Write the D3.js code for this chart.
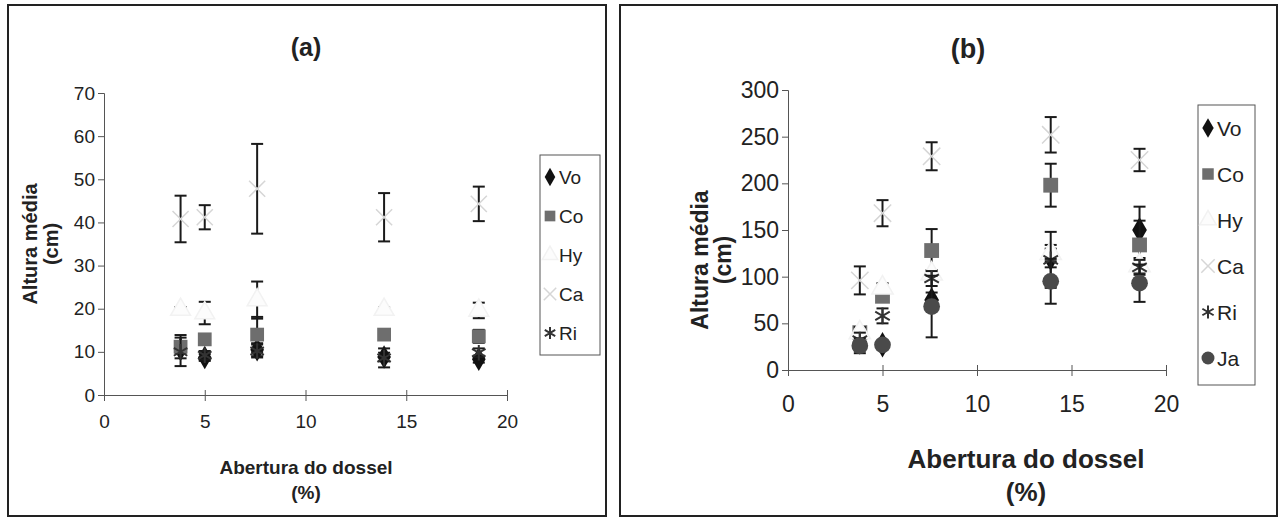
<!DOCTYPE html>
<html>
<head>
<meta charset="utf-8">
<script src="https://cdn.jsdelivr.net/npm/d3@7"></script>
<style>
  body { margin: 0; background: #fff; }
  svg { font-family: "Liberation Sans", Arial, sans-serif; }
</style>
</head>
<body>
<div id="chart"></div>
<script>
// canopy openness (%) of the five sites
const abertura = [3.8, 5.0, 7.6, 13.9, 18.6];

// panel (a) - mean height (cm) and error
const aVo = [10.6, 8.7, 10.5, 8.8, 8.3];
const aVoErr = [1.0, 0.8, 1.5, 1.0, 0.8];
const aCo = [11.2, 12.9, 14.0, 14.0, 13.6];
const aCoErr = [2.7, 1.2, 4.1, 1.2, 1.5];
const aHy = [19.8, 19.0, 22.0, 19.8, 19.6];
const aHyErr = [0.6, 2.6, 4.3, 0.5, 1.8];
const aCa = [40.8, 41.2, 47.8, 41.2, 44.3];
const aCaErr = [5.4, 2.8, 10.4, 5.6, 4.0];
const aRi = [10.0, 9.2, 10.2, 8.6, 9.8];
const aRiErr = [3.3, 1.0, 1.5, 2.2, 1.0];

// panel (b)
const bVo = [30, 27, 75, 120, 150];
const bVoErr = [5, 4, 8, 10, 10];
const bCo = [40, 79, 128, 198, 134];
const bCoErr = [4, 4, 23, 23, 41];
const bHy = [40, 88, 103, 125, 112];
const bHyErr = [6, 5, 4, 9, 8];
const bCa = [96, 168, 229, 252, 225];
const bCaErr = [15, 14, 15, 19, 12];
const bRi = [32, 58, 98, 118, 110];
const bRiErr = [8, 8, 8, 30, 8];
const bJa = [26, 27, 68, 95, 93];
const bJaErr = [8, 4, 33, 24, 20];

const xTicks = [0, 5, 10, 15, 20];
const aTicks = [0, 10, 20, 30, 40, 50, 60, 70];
const bTicks = [0, 50, 100, 150, 200, 250, 300];

// marker look for each species
const styles = {
  Vo: { type: d3.symbolDiamond, fill: '#111', stroke: 'none', k: 0.85, w: 2 },
  Co: { type: d3.symbolSquare, fill: '#6e6e6e', stroke: 'none', k: 1, w: 2 },
  Hy: { type: d3.symbolTriangle, fill: '#fcfcfc', stroke: '#f2f2f2', k: 0.9, w: 1.5 },
  Ca: { type: d3.symbolTimes, fill: 'none', stroke: '#d6d6d6', k: 0.9, w: 1.5 },
  Ri: { type: d3.symbolAsterisk, fill: 'none', stroke: '#333', k: 0.9, w: 2 },
  Ja: { type: d3.symbolCircle, fill: '#4a4a4a', stroke: 'none', k: 1, w: 2 }
};

const width = 1281;
const height = 518;

const svg = d3.select('#chart')
  .append('svg')
  .attr('width', width)
  .attr('height', height);

function drawPanel(p) {
  const g = svg.append('g');

  g.append('rect')
    .attr('x', p.frame[0]).attr('y', p.frame[1])
    .attr('width', p.frame[2]).attr('height', p.frame[3])
    .attr('fill', 'none')
    .attr('stroke', '#222')
    .attr('stroke-width', 2);

  const x = d3.scaleLinear().domain([0, 20]).range([p.left, p.right]);
  const y = d3.scaleLinear().domain([0, p.yMax]).range([p.bottom, p.top]);

  const axisY = d3.axisLeft(y).tickValues(p.yTicks).tickSize(6).tickPadding(3);
  const gy = g.append('g')
    .attr('transform', `translate(${p.left},0)`)
    .call(axisY);
  gy.select('.domain').attr('stroke', '#555');
  gy.selectAll('.tick line').attr('stroke', '#555');
  gy.selectAll('text').attr('font-size', p.tickFont).attr('fill', '#222')
    .attr('font-family', '"Liberation Sans", Arial, sans-serif');

  const axisX = d3.axisBottom(x).tickValues(xTicks).tickSize(6).tickPadding(p.xPad);
  const gx = g.append('g')
    .attr('transform', `translate(0,${p.bottom})`)
    .call(axisX);
  gx.select('.domain').attr('stroke', '#555');
  gx.selectAll('.tick line').attr('stroke', '#555').attr('y1', -5);
  gx.selectAll('text').attr('font-size', p.tickFont).attr('fill', '#222')
    .attr('font-family', '"Liberation Sans", Arial, sans-serif');

  // series: error bars then markers
  p.series.forEach(s => {
    const st = styles[s.name];
    const eb = g.append('g').attr('stroke', '#1a1a1a').attr('stroke-width', 2);
    s.values.forEach((v, i) => {
      const cx = x(abertura[i]);
      const y1 = y(v + s.err[i]);
      const y2 = y(v - s.err[i]);
      eb.append('line').attr('x1', cx).attr('x2', cx).attr('y1', y1).attr('y2', y2);
      eb.append('line').attr('x1', cx - p.cap).attr('x2', cx + p.cap).attr('y1', y1).attr('y2', y1);
      eb.append('line').attr('x1', cx - p.cap).attr('x2', cx + p.cap).attr('y1', y2).attr('y2', y2);
    });
    g.append('g').selectAll('path')
      .data(s.values)
      .enter()
      .append('path')
      .attr('transform', (d, i) => `translate(${x(abertura[i])},${y(d)})`)
      .attr('d', d3.symbol().type(st.type).size(p.symSize * st.k))
      .attr('fill', st.fill)
      .attr('stroke', st.stroke)
      .attr('stroke-width', st.w);
  });

  // legend
  const lg = g.append('g');
  lg.append('rect')
    .attr('x', p.legend[0]).attr('y', p.legend[1])
    .attr('width', p.legend[2]).attr('height', p.legend[3])
    .attr('fill', '#fff').attr('stroke', '#555');
  p.series.forEach((s, i) => {
    const st = styles[s.name];
    const ly = p.legend[1] + p.legendFirst + i * p.legendStep;
    lg.append('path')
      .attr('transform', `translate(${p.legend[0] + 10},${ly})`)
      .attr('d', d3.symbol().type(st.type).size(p.symSize * st.k * 0.6))
      .attr('fill', st.fill)
      .attr('stroke', st.stroke)
      .attr('stroke-width', st.w);
    lg.append('text')
      .attr('x', p.legend[0] + 19)
      .attr('y', ly)
      .attr('dy', '0.36em')
      .attr('font-size', p.legendFont)
      .attr('fill', '#222')
      .text(s.name);
  });

  // titles
  g.append('text')
    .attr('x', p.titleX).attr('y', p.titleY)
    .attr('text-anchor', 'middle')
    .attr('font-size', p.titleFont).attr('font-weight', 'bold')
    .attr('fill', '#222')
    .text(p.title);

  g.append('text')
    .attr('x', p.xLabelX).attr('y', p.xLabelY)
    .attr('text-anchor', 'middle')
    .attr('font-size', p.labelFont).attr('font-weight', 'bold')
    .attr('fill', '#222')
    .text('Abertura do dossel');
  g.append('text')
    .attr('x', p.xLabelX).attr('y', p.xLabelY + p.xLabelGap)
    .attr('text-anchor', 'middle')
    .attr('font-size', p.labelFont).attr('font-weight', 'bold')
    .attr('fill', '#222')
    .text('(%)');

  g.append('text')
    .attr('transform', `translate(${p.yLabelX},${p.yLabelY}) rotate(-90)`)
    .attr('text-anchor', 'middle')
    .attr('font-size', p.yLabelFont).attr('font-weight', 'bold')
    .attr('fill', '#222')
    .text('Altura média');
  g.append('text')
    .attr('transform', `translate(${p.yLabelX + p.yLabelGap},${p.yLabelY}) rotate(-90)`)
    .attr('text-anchor', 'middle')
    .attr('font-size', p.yLabelFont).attr('font-weight', 'bold')
    .attr('fill', '#222')
    .text('(cm)');
}

drawPanel({
  frame: [8, 5, 598, 511],
  left: 104, right: 507, top: 93, bottom: 395,
  yMax: 70, yTicks: aTicks,
  tickFont: 19, xPad: 14,
  cap: 6, symSize: 190,
  series: [
    { name: 'Vo', values: aVo, err: aVoErr },
    { name: 'Co', values: aCo, err: aCoErr },
    { name: 'Hy', values: aHy, err: aHyErr },
    { name: 'Ca', values: aCa, err: aCaErr },
    { name: 'Ri', values: aRi, err: aRiErr }
  ],
  legend: [540, 155, 60, 200], legendFirst: 22, legendStep: 39, legendFont: 19,
  title: '(a)', titleX: 306, titleY: 56, titleFont: 25,
  xLabelX: 306, xLabelY: 474, xLabelGap: 25, labelFont: 19,
  yLabelX: 37, yLabelY: 244, yLabelGap: 21, yLabelFont: 20
});

drawPanel({
  frame: [620, 5, 657, 511],
  left: 788, right: 1166, top: 90, bottom: 370,
  yMax: 300, yTicks: bTicks,
  tickFont: 23, xPad: 20,
  cap: 6, symSize: 220,
  series: [
    { name: 'Vo', values: bVo, err: bVoErr },
    { name: 'Co', values: bCo, err: bCoErr },
    { name: 'Hy', values: bHy, err: bHyErr },
    { name: 'Ca', values: bCa, err: bCaErr },
    { name: 'Ri', values: bRi, err: bRiErr },
    { name: 'Ja', values: bJa, err: bJaErr }
  ],
  legend: [1198, 105, 57, 280], legendFirst: 23, legendStep: 46, legendFont: 21,
  title: '(b)', titleX: 968, titleY: 58, titleFont: 27,
  xLabelX: 1026, xLabelY: 468, xLabelGap: 33, labelFont: 26,
  yLabelX: 708, yLabelY: 260, yLabelGap: 23, yLabelFont: 23
});
</script>
</body>
</html>
